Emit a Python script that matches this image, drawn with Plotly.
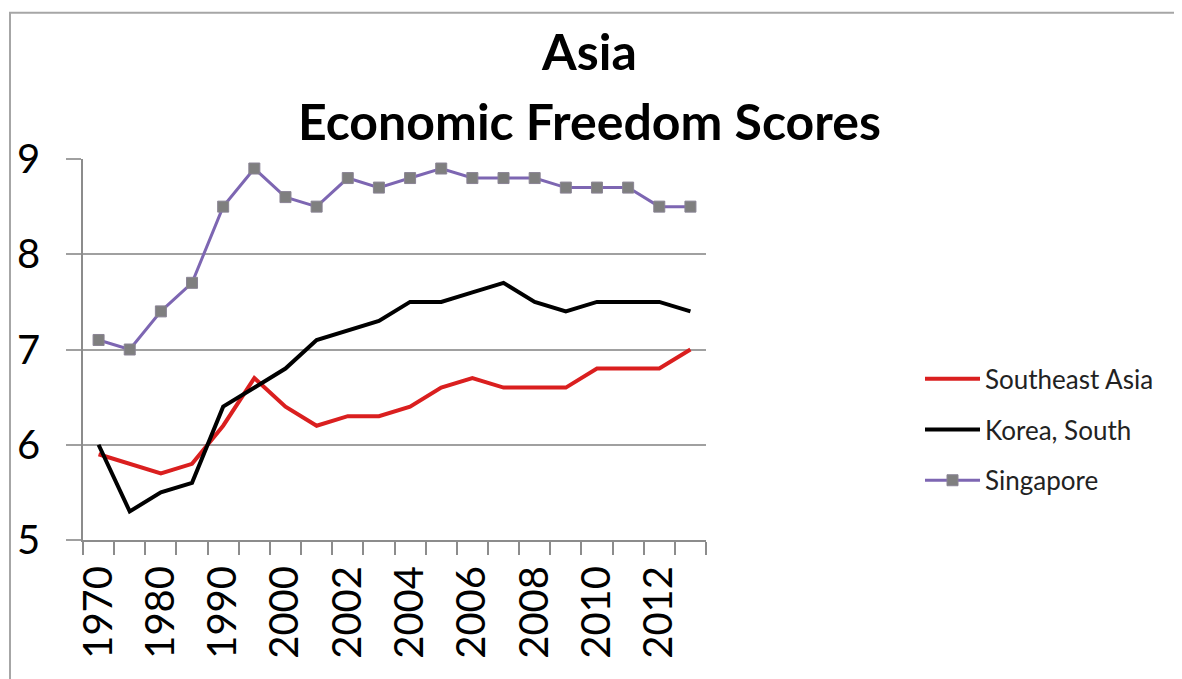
import plotly.graph_objects as go

years = [1970, 1975, 1980, 1985, 1990, 1995, 2000, 2001, 2002, 2003,
         2004, 2005, 2006, 2007, 2008, 2009, 2010, 2011, 2012, 2013]
tick_labels = ["1970", "1980", "1990", "2000", "2002", "2004",
               "2006", "2008", "2010", "2012"]

southeast_asia = [5.9, 5.8, 5.7, 5.8, 6.2, 6.7, 6.4, 6.2, 6.3, 6.3,
                  6.4, 6.6, 6.7, 6.6, 6.6, 6.6, 6.8, 6.8, 6.8, 7.0]
korea_south = [6.0, 5.3, 5.5, 5.6, 6.4, 6.6, 6.8, 7.1, 7.2, 7.3,
               7.5, 7.5, 7.6, 7.7, 7.5, 7.4, 7.5, 7.5, 7.5, 7.4]
singapore = [7.1, 7.0, 7.4, 7.7, 8.5, 8.9, 8.6, 8.5, 8.8, 8.7,
             8.8, 8.9, 8.8, 8.8, 8.8, 8.7, 8.7, 8.7, 8.5, 8.5]

idx = list(range(len(years)))
tick_pos = [years.index(int(t)) for t in tick_labels]

FONT = "Lato"
# the page body has an 8px margin, so the figure is made 8px smaller
OFF = 8
W, H = 1182 - OFF, 679 - OFF
L, T = 83 - OFF, 158.5 - OFF
R = W - (706 - OFF)
B = H - (540 - OFF)
pw, ph = W - L - R, H - T - B


def px_x(x):
    return (x - OFF - L) / pw


def px_y(y):
    return (H - B - (y - OFF)) / ph


fig = go.Figure()
fig.add_trace(go.Scatter(x=idx, y=southeast_asia, name="Southeast Asia", mode="lines",
                         line=dict(color="#DA1F1F", width=4), legendgroup="a"))
fig.add_trace(go.Scatter(x=idx, y=korea_south, name="Korea, South", mode="lines",
                         line=dict(color="#000000", width=4), legendgroup="b"))
fig.add_trace(go.Scatter(x=idx, y=singapore, name="Singapore", mode="lines+markers",
                         line=dict(color="#7D66B2", width=3),
                         marker=dict(symbol="square", size=11, color="#7F7F7F",
                                     line=dict(color="#8A8494", width=1)),
                         legendgroup="c"))

# outer chart border, clipped by the page edges like the original
fig.add_shape(type="rect", xref="paper", yref="paper", layer="below",
              x0=px_x(10), x1=px_x(1240), y0=px_y(740), y1=px_y(12),
              line=dict(color="#A6A6A6", width=2), fillcolor="rgba(0,0,0,0)")

fig.add_annotation(text="<b>Asia</b>", xref="paper", yref="paper",
                   x=px_x(589), y=px_y(50), xanchor="center", yanchor="middle",
                   showarrow=False, font=dict(family=FONT, size=50, color="#000000"))
fig.add_annotation(text="<b>Economic Freedom Scores</b>", xref="paper", yref="paper",
                   x=px_x(589), y=px_y(120), xanchor="center", yanchor="middle",
                   showarrow=False, font=dict(family=FONT, size=50, color="#000000"))

fig.update_layout(
    width=W, height=H,
    margin=dict(l=L, r=R, t=T, b=B, autoexpand=False),
    paper_bgcolor="white", plot_bgcolor="white",
    font=dict(family=FONT, color="#000000"),
    legend=dict(x=px_x(920), xanchor="left", y=px_y(355), yanchor="top",
                font=dict(family=FONT, size=26, color="#222222"),
                tracegroupgap=14, itemwidth=55, bgcolor="rgba(0,0,0,0)"),
    showlegend=True,
)

fig.update_xaxes(range=[-0.5, len(years) - 0.5], tickmode="array",
                 tickvals=tick_pos, ticktext=tick_labels, tickangle=-90,
                 ticks="", showgrid=False, zeroline=False,
                 showline=True, linecolor="#8C8C8C", linewidth=2,
                 tickfont=dict(family=FONT, size=40, color="#000000"),
                 ticklabelstandoff=8,
                 minor=dict(tickmode="linear", tick0=-0.5, dtick=1, ticks="outside",
                            ticklen=13, tickcolor="#8C8C8C", tickwidth=2, showgrid=False))
fig.update_yaxes(range=[5, 9], tickmode="linear", tick0=5, dtick=1,
                 ticks="outside", ticklen=15, tickcolor="#A0A0A0", tickwidth=2,
                 showgrid=True, gridcolor="#A0A0A0", gridwidth=2, zeroline=False,
                 showline=True, linecolor="#8C8C8C", linewidth=1.5,
                 tickfont=dict(family=FONT, size=40, color="#000000"),
                 ticklabelstandoff=18)

fig.write_html("out.html")
